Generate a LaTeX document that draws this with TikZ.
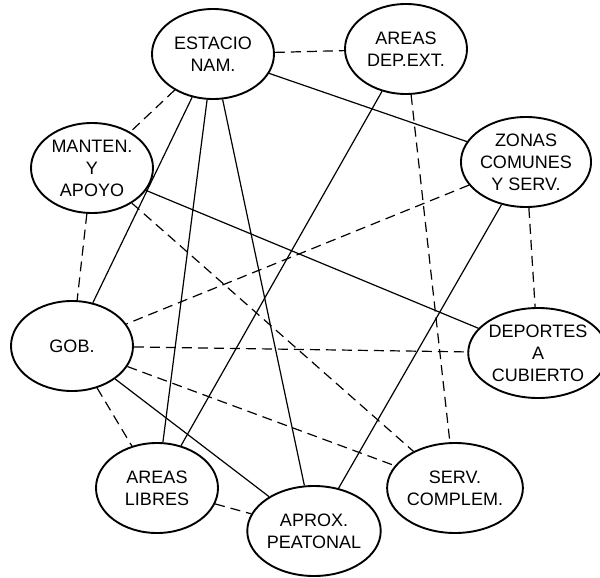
\documentclass[tikz,border=0pt]{standalone}
\usepackage{fontspec}
\setmainfont{Liberation Sans}
\usepackage{tikz}
\usetikzlibrary{shapes.geometric}

\begin{document}
\begin{tikzpicture}[
    x=1pt, y=-1pt,
    zone/.style={draw, ellipse, line width=1.9pt, inner sep=0pt,
        minimum width=122pt, minimum height=90pt, align=center,
        font=\fontsize{18}{22}\selectfont},
    link/.style={line width=1.2pt},
    weak/.style={link, dash pattern=on 10pt off 6pt}
]
\useasboundingbox (0,0) rectangle (600,578);

\node[zone] (estac) at (213,54) {ESTACIO\\NAM.};
\node[zone] (depext) at (406,49) {AREAS\\DEP.EXT.};
\node[zone] (zonas) at (526,162) {ZONAS\\COMUNES\\Y SERV.};
\node[zone] (manten) at (92,168) {MANTEN.\\Y\\APOYO};
\node[zone] (gob) at (72,346) {GOB.};
\node[zone] (deport) at (538,353) {DEPORTES\\A\\CUBIERTO};
\node[zone] (libres) at (157,488) {AREAS\\LIBRES};
\node[zone] (servc) at (455,488) {SERV.\\COMPLEM.};
\node[zone] (aprox) at (314,531) {APROX.\\PEATONAL};

% solid links
\draw[link] (estac) -- (zonas);
\draw[link] (estac) -- (gob);
\draw[link] (estac) -- (libres);
\draw[link] (estac) -- (aprox);
\draw[link] (depext) -- (libres);
\draw[link] (manten) -- (deport);
\draw[link] (zonas) -- (aprox);
\draw[link] (gob) -- (aprox);

% dashed links
\draw[weak] (estac) -- (depext);
\draw[weak] (estac) -- (manten);
\draw[weak] (manten) -- (gob);
\draw[weak] (manten) -- (servc);
\draw[weak] (depext) -- (servc);
\draw[weak] (zonas) -- (deport);
\draw[weak] (zonas) -- (gob);
\draw[weak] (gob) -- (deport);
\draw[weak] (gob) -- (servc);
\draw[weak] (gob) -- (libres);
\draw[weak] (libres) -- (aprox);
\end{tikzpicture}
\end{document}
